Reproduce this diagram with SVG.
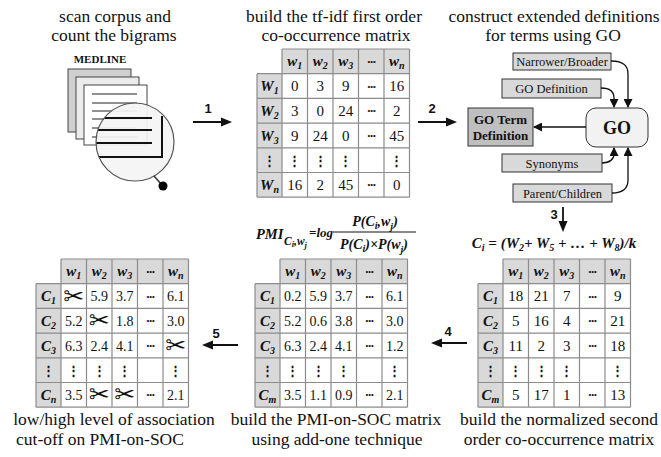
<svg xmlns="http://www.w3.org/2000/svg" width="661" height="457" viewBox="0 0 661 457">
<style>
text { font-family: "Liberation Serif", "Times New Roman", serif; fill: #111; }
.title { font-size: 17.5px; text-anchor: middle; }
.num { font-size: 15px; text-anchor: middle; }
.num14 { font-size: 14px; text-anchor: middle; }
.lab { font-size: 15px; font-weight: bold; font-style: italic; text-anchor: middle; }
.sub { font-size: 10px; }
.dots { font-size: 13px; font-weight: bold; text-anchor: middle; letter-spacing: -0.5px; }
.vd { font-family: "DejaVu Serif", serif; font-size: 13px; font-weight: bold; text-anchor: middle; }
.cut { font-family: "DejaVu Sans", sans-serif; font-size: 25px; text-anchor: middle; }
.step { font-family: "Liberation Sans", Arial, sans-serif; font-size: 13px; font-weight: bold; text-anchor: middle; }
.box { fill: #d9d9d9; stroke: #333; stroke-width: 1; }
.boxlbl { font-size: 12.5px; text-anchor: middle; }
.conn { fill: none; stroke: #111; stroke-width: 1.3; }
.flow { fill: none; stroke: #111; stroke-width: 1.8; }
.hd { fill: #d9d9d9; }
.grid { fill: none; stroke: #8c8c8c; stroke-width: 1.2; }
.f { font-weight: bold; font-style: italic; }
</style>
<defs>
  <marker id="head" markerUnits="userSpaceOnUse" markerWidth="11" markerHeight="10" refX="8" refY="5" orient="auto" viewBox="0 0 11 10">
    <path d="M0,0.5 L11,5 L0,9.5 z" fill="#111"/>
  </marker>
  <marker id="headS" markerUnits="userSpaceOnUse" markerWidth="9" markerHeight="9" refX="8" refY="4.5" orient="auto" viewBox="0 0 9 9">
    <path d="M0,0 L9,4.5 L0,9 z" fill="#111"/>
  </marker>
  <clipPath id="lens"><circle cx="135" cy="142" r="39"/></clipPath>
  <!-- 5 data columns x 5 data rows, with header row and row-label column -->
  <g id="table-frame">
    <rect class="hd" x="25" y="0" width="127.5" height="24.7"/>
    <rect class="hd" x="0" y="24.7" width="25" height="123.5"/>
    <rect fill="#fff" x="25" y="24.7" width="127.5" height="123.5"/>
    <path class="grid" d="M25,0H152.5 M0,24.7H152.5 M0,49.4H152.5 M0,74.1H152.5 M0,98.8H152.5 M0,123.5H152.5 M0,148.2H152.5 M0,24.7V148.2 M25,0V148.2 M50.5,0V148.2 M76,0V148.2 M101.5,0V148.2 M127,0V148.2 M152.5,0V148.2"/>
  </g>
</defs>

<rect width="661" height="457" fill="#fff"/>

<!-- step titles -->
<g id="titles">
  <text class="title" x="115" y="22">scan corpus and</text>
  <text class="title" x="114" y="41">count the bigrams</text>
  <text class="title" x="334" y="22">build the tf-idf first order</text>
  <text class="title" x="336" y="41">co-occurrence matrix</text>
  <text class="title" x="554" y="22" font-size="16.3">construct extended definitions</text>
  <text class="title" x="553" y="41" font-size="16.3">for terms using GO</text>
  <text class="title" x="114" y="425" font-size="18">low/high level of association</text>
  <text class="title" x="100" y="445">cut-off on PMI-on-SOC</text>
  <text class="title" x="336" y="425">build the PMI-on-SOC matrix</text>
  <text class="title" x="337" y="445">using add-one technique</text>
  <text class="title" x="559" y="425">build the normalized second</text>
  <text class="title" x="559" y="445">order co-occurrence matrix</text>
</g>

<!-- corpus: stacked pages under a magnifying glass -->
<g id="medline-corpus">
  <text x="100" y="63" font-family="Liberation Sans, Arial, sans-serif" font-weight="bold" font-size="11" text-anchor="middle">MEDLINE</text>
  <rect x="68" y="69" width="63" height="63" fill="#cfcfcf" stroke="#444"/>
  <rect x="76" y="77" width="63" height="62" fill="#ececec" stroke="#444"/>
  <rect x="84" y="85" width="63" height="60" fill="#fff" stroke="#444"/>
  <path d="M92,94H137 M92,103H137 M92,111H137 M92,119H137 M92,128H137 M92,137H137" stroke="#222" stroke-width="1.2"/>
  <circle cx="135" cy="142" r="39" fill="#f4f4f4" fill-opacity="0.93"/>
  <path d="M90,118H152 M90,130H152 M90,143H152 M162,116V157H90" stroke="#111" stroke-width="2" fill="none" clip-path="url(#lens)"/>
  <circle cx="135" cy="142" r="39" fill="none" stroke="#555" stroke-width="1.2"/>
  <line x1="154" y1="176" x2="162" y2="185" stroke="#333" stroke-width="1.5"/>
  <circle cx="163" cy="186" r="4.5" fill="#000"/>
</g>

<!-- first order co-occurrence matrix -->
<g id="tfidf-matrix" transform="translate(257,49)">
  <use href="#table-frame"/>
  <text class="lab" x="37.75" y="17.4">w<tspan class="sub" dy="3">1</tspan></text>
  <text class="lab" x="63.25" y="17.4">w<tspan class="sub" dy="3">2</tspan></text>
  <text class="lab" x="88.75" y="17.4">w<tspan class="sub" dy="3">3</tspan></text>
  <text class="dots" x="114.25" y="13.9">...</text>
  <text class="lab" x="139.75" y="17.4">w<tspan class="sub" dy="3">n</tspan></text>
  <text class="lab" x="12.5" y="42.1">W<tspan class="sub" dy="3">1</tspan></text>
  <text class="lab" x="12.5" y="66.8">W<tspan class="sub" dy="3">2</tspan></text>
  <text class="lab" x="12.5" y="91.5">W<tspan class="sub" dy="3">3</tspan></text>
  <text class="vd" x="12.5" y="116">⋮</text>
  <text class="lab" x="12.5" y="140.9">W<tspan class="sub" dy="3">n</tspan></text>
  <text class="num" x="37.75" y="42.1">0</text><text class="num" x="63.25" y="42.1">3</text><text class="num" x="88.75" y="42.1">9</text><text class="dots" x="114.25" y="38.5">...</text><text class="num" x="139.75" y="42.1">16</text>
  <text class="num" x="37.75" y="66.8">3</text><text class="num" x="63.25" y="66.8">0</text><text class="num" x="88.75" y="66.8">24</text><text class="dots" x="114.25" y="63.2">...</text><text class="num" x="139.75" y="66.8">2</text>
  <text class="num" x="37.75" y="91.5">9</text><text class="num" x="63.25" y="91.5">24</text><text class="num" x="88.75" y="91.5">0</text><text class="dots" x="114.25" y="87.9">...</text><text class="num" x="139.75" y="91.5">45</text>
  <text class="vd" x="37.75" y="116">⋮</text><text class="vd" x="63.25" y="116">⋮</text><text class="vd" x="88.75" y="116">⋮</text><text class="vd" x="139.75" y="116">⋮</text>
  <text class="num" x="37.75" y="140.9">16</text><text class="num" x="63.25" y="140.9">2</text><text class="num" x="88.75" y="140.9">45</text><text class="dots" x="114.25" y="137.3">...</text><text class="num" x="139.75" y="140.9">0</text>
</g>

<!-- GO sources -->
<g id="go-narrower-broader">
  <rect class="box" x="513" y="53" width="98" height="17"/>
  <text class="boxlbl" x="562" y="66">Narrower/Broader</text>
</g>
<g id="go-definition">
  <rect class="box" x="502" y="79" width="99" height="19"/>
  <text class="boxlbl" x="551.5" y="93">GO Definition</text>
</g>
<g id="go-synonyms">
  <rect class="box" x="502" y="154" width="100" height="18"/>
  <text class="boxlbl" x="552" y="167.5">Synonyms</text>
</g>
<g id="go-parent-children">
  <rect class="box" x="513" y="184" width="99" height="18"/>
  <text class="boxlbl" x="562.5" y="197.5">Parent/Children</text>
</g>
<g id="go">
  <rect x="586" y="108" width="62" height="39" rx="10" fill="#f2f2f2" stroke="#333" stroke-width="1"/>
  <text x="617" y="134" font-size="18" font-weight="bold" text-anchor="middle">GO</text>
</g>
<g id="go-term-definition">
  <rect x="468" y="108" width="65" height="38" fill="#bfbfbf" stroke="#333" stroke-width="1"/>
  <text x="500.5" y="124" font-size="13" font-weight="bold" text-anchor="middle">GO Term</text>
  <text x="500.5" y="139.5" font-size="13" font-weight="bold" text-anchor="middle">Definition</text>
</g>

<!-- normalized second order matrix -->
<text id="centroid-formula" x="554" y="248" class="f" font-size="15" text-anchor="middle">C<tspan font-size="10" dy="3">i</tspan><tspan dy="-3"> = (W</tspan><tspan font-size="10" dy="3">2</tspan><tspan dy="-3">+ W</tspan><tspan font-size="10" dy="3">5</tspan><tspan dy="-3"> + … + W</tspan><tspan font-size="10" dy="3">8</tspan><tspan dy="-3">)/k</tspan></text>
<g id="soc-matrix" transform="translate(478,259)">
  <use href="#table-frame"/>
  <text class="lab" x="37.75" y="17.4">w<tspan class="sub" dy="3">1</tspan></text>
  <text class="lab" x="63.25" y="17.4">w<tspan class="sub" dy="3">2</tspan></text>
  <text class="lab" x="88.75" y="17.4">w<tspan class="sub" dy="3">3</tspan></text>
  <text class="dots" x="114.25" y="13.9">...</text>
  <text class="lab" x="139.75" y="17.4">w<tspan class="sub" dy="3">n</tspan></text>
  <text class="lab" x="12.5" y="42.1">C<tspan class="sub" dy="3">1</tspan></text>
  <text class="lab" x="12.5" y="66.8">C<tspan class="sub" dy="3">2</tspan></text>
  <text class="lab" x="12.5" y="91.5">C<tspan class="sub" dy="3">3</tspan></text>
  <text class="vd" x="12.5" y="116">⋮</text>
  <text class="lab" x="12.5" y="140.9">C<tspan class="sub" dy="3">m</tspan></text>
  <text class="num" x="37.75" y="42.1">18</text><text class="num" x="63.25" y="42.1">21</text><text class="num" x="88.75" y="42.1">7</text><text class="dots" x="114.25" y="38.5">...</text><text class="num" x="139.75" y="42.1">9</text>
  <text class="num" x="37.75" y="66.8">5</text><text class="num" x="63.25" y="66.8">16</text><text class="num" x="88.75" y="66.8">4</text><text class="dots" x="114.25" y="63.2">...</text><text class="num" x="139.75" y="66.8">21</text>
  <text class="num" x="37.75" y="91.5">11</text><text class="num" x="63.25" y="91.5">2</text><text class="num" x="88.75" y="91.5">3</text><text class="dots" x="114.25" y="87.9">...</text><text class="num" x="139.75" y="91.5">18</text>
  <text class="vd" x="37.75" y="116">⋮</text><text class="vd" x="63.25" y="116">⋮</text><text class="vd" x="88.75" y="116">⋮</text><text class="vd" x="139.75" y="116">⋮</text>
  <text class="num" x="37.75" y="140.9">5</text><text class="num" x="63.25" y="140.9">17</text><text class="num" x="88.75" y="140.9">1</text><text class="dots" x="114.25" y="137.3">...</text><text class="num" x="139.75" y="140.9">13</text>
</g>

<!-- PMI on second order co-occurrence -->
<g id="pmi-formula" class="f">
  <text x="256" y="239" font-size="14.5">PMI</text>
  <text x="284" y="245" font-size="11.5">C<tspan font-size="8.5" dy="2">i</tspan><tspan dy="-2">,w</tspan><tspan font-size="8.5" dy="3">j</tspan></text>
  <text x="309" y="237" font-size="13">=log</text>
  <text x="375" y="226" font-size="14" text-anchor="middle">P(C<tspan font-size="10" dy="3">i</tspan><tspan dy="-3">,w</tspan><tspan font-size="10" dy="4">j</tspan><tspan dy="-4">)</tspan></text>
  <line x1="333" y1="232" x2="416" y2="232" stroke="#111" stroke-width="1"/>
  <text x="374" y="249" font-size="14" text-anchor="middle">P(C<tspan font-size="10" dy="3">i</tspan><tspan dy="-3">)×P(w</tspan><tspan font-size="10" dy="4">j</tspan><tspan dy="-4">)</tspan></text>
</g>
<g id="pmi-matrix" transform="translate(255,259)">
  <use href="#table-frame"/>
  <text class="lab" x="37.75" y="17.4">w<tspan class="sub" dy="3">1</tspan></text>
  <text class="lab" x="63.25" y="17.4">w<tspan class="sub" dy="3">2</tspan></text>
  <text class="lab" x="88.75" y="17.4">w<tspan class="sub" dy="3">3</tspan></text>
  <text class="dots" x="114.25" y="13.9">...</text>
  <text class="lab" x="139.75" y="17.4">w<tspan class="sub" dy="3">n</tspan></text>
  <text class="lab" x="12.5" y="42.1">C<tspan class="sub" dy="3">1</tspan></text>
  <text class="lab" x="12.5" y="66.8">C<tspan class="sub" dy="3">2</tspan></text>
  <text class="lab" x="12.5" y="91.5">C<tspan class="sub" dy="3">3</tspan></text>
  <text class="vd" x="12.5" y="116">⋮</text>
  <text class="lab" x="12.5" y="140.9">C<tspan class="sub" dy="3">m</tspan></text>
  <text class="num14" x="37.75" y="42.1">0.2</text><text class="num14" x="63.25" y="42.1">5.9</text><text class="num14" x="88.75" y="42.1">3.7</text><text class="dots" x="114.25" y="38.5">...</text><text class="num14" x="139.75" y="42.1">6.1</text>
  <text class="num14" x="37.75" y="66.8">5.2</text><text class="num14" x="63.25" y="66.8">0.6</text><text class="num14" x="88.75" y="66.8">3.8</text><text class="dots" x="114.25" y="63.2">...</text><text class="num14" x="139.75" y="66.8">3.0</text>
  <text class="num14" x="37.75" y="91.5">6.3</text><text class="num14" x="63.25" y="91.5">2.4</text><text class="num14" x="88.75" y="91.5">4.1</text><text class="dots" x="114.25" y="87.9">...</text><text class="num14" x="139.75" y="91.5">1.2</text>
  <text class="vd" x="37.75" y="116">⋮</text><text class="vd" x="63.25" y="116">⋮</text><text class="vd" x="88.75" y="116">⋮</text><text class="vd" x="139.75" y="116">⋮</text>
  <text class="num14" x="37.75" y="140.9">3.5</text><text class="num14" x="63.25" y="140.9">1.1</text><text class="num14" x="88.75" y="140.9">0.9</text><text class="dots" x="114.25" y="137.3">...</text><text class="num14" x="139.75" y="140.9">2.1</text>
</g>

<!-- PMI matrix with cut-off cells -->
<g id="cutoff-matrix" transform="translate(36,259)">
  <use href="#table-frame"/>
  <text class="lab" x="37.75" y="17.4">w<tspan class="sub" dy="3">1</tspan></text>
  <text class="lab" x="63.25" y="17.4">w<tspan class="sub" dy="3">2</tspan></text>
  <text class="lab" x="88.75" y="17.4">w<tspan class="sub" dy="3">3</tspan></text>
  <text class="dots" x="114.25" y="13.9">...</text>
  <text class="lab" x="139.75" y="17.4">w<tspan class="sub" dy="3">n</tspan></text>
  <text class="lab" x="12.5" y="42.1">C<tspan class="sub" dy="3">1</tspan></text>
  <text class="lab" x="12.5" y="66.8">C<tspan class="sub" dy="3">2</tspan></text>
  <text class="lab" x="12.5" y="91.5">C<tspan class="sub" dy="3">3</tspan></text>
  <text class="vd" x="12.5" y="116">⋮</text>
  <text class="lab" x="12.5" y="140.9">C<tspan class="sub" dy="3">n</tspan></text>
  <text class="cut" x="37.75" y="45.5">✂</text><text class="num14" x="63.25" y="42.1">5.9</text><text class="num14" x="88.75" y="42.1">3.7</text><text class="dots" x="114.25" y="38.5">...</text><text class="num14" x="139.75" y="42.1">6.1</text>
  <text class="num14" x="37.75" y="66.8">5.2</text><text class="cut" x="63.25" y="70.2">✂</text><text class="num14" x="88.75" y="66.8">1.8</text><text class="dots" x="114.25" y="63.2">...</text><text class="num14" x="139.75" y="66.8">3.0</text>
  <text class="num14" x="37.75" y="91.5">6.3</text><text class="num14" x="63.25" y="91.5">2.4</text><text class="num14" x="88.75" y="91.5">4.1</text><text class="dots" x="114.25" y="87.9">...</text><text class="cut" x="139.75" y="94.9">✂</text>
  <text class="vd" x="37.75" y="116">⋮</text><text class="vd" x="63.25" y="116">⋮</text><text class="vd" x="88.75" y="116">⋮</text><text class="vd" x="139.75" y="116">⋮</text>
  <text class="num14" x="37.75" y="140.9">3.5</text><text class="cut" x="63.25" y="144.3">✂</text><text class="cut" x="88.75" y="144.3">✂</text><text class="dots" x="114.25" y="137.3">...</text><text class="num14" x="139.75" y="140.9">2.1</text>
</g>

<!-- connectors -->
<g id="connectors">
  <path class="flow" d="M193,122 H229" marker-end="url(#head)"/>
  <text class="step" x="208" y="113">1</text>
  <path class="flow" d="M418,122 H454" marker-end="url(#head)"/>
  <text class="step" x="432" y="113">2</text>
  <path class="flow" d="M563,207 V229" marker-end="url(#head)"/>
  <text class="step" x="554" y="219">3</text>
  <path class="flow" d="M467,343 H434" marker-end="url(#head)"/>
  <text class="step" x="448" y="336">4</text>
  <path class="flow" d="M238,345 H205" marker-end="url(#head)"/>
  <text class="step" x="216" y="338">5</text>
  <path class="conn" d="M611,61 C624,61 628,66 628,74 V107" marker-end="url(#headS)"/>
  <path class="conn" d="M601,88 C610,88 614,92 614,98 V107" marker-end="url(#headS)"/>
  <path class="conn" d="M602,163 C610,163 614,159 614,154 V148" marker-end="url(#headS)"/>
  <path class="conn" d="M612,193 C624,193 628,188 628,180 V148" marker-end="url(#headS)"/>
  <path class="conn" d="M586,127 H534" marker-end="url(#headS)"/>
</g>
</svg>
